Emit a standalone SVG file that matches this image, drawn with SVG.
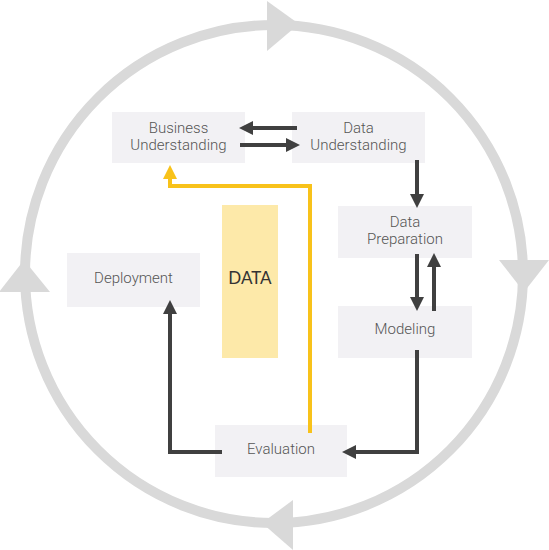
<svg xmlns="http://www.w3.org/2000/svg" width="549" height="550" viewBox="0 0 549 550">
<style>
.box{fill:#f2f1f4}
.lbl{font-family:Roboto,"Liberation Sans",sans-serif;font-size:15px;fill:#555;text-anchor:middle;font-weight:300}
.cyc{fill:#d9d9d9}
.ar{fill:none;stroke:#404040;stroke-width:4}
.ay{fill:none;stroke:#f8c21a;stroke-width:4}
</style>
<defs>
<marker id="hd" viewBox="0 0 14 14" refX="3" refY="7" markerWidth="14" markerHeight="14" markerUnits="userSpaceOnUse" orient="auto"><path d="M0,0 L14,7 L0,14 z" fill="#404040"/></marker>
<marker id="hy" viewBox="0 0 14 14" refX="3" refY="7" markerWidth="14" markerHeight="14" markerUnits="userSpaceOnUse" orient="auto"><path d="M0,0 L14,7 L0,14 z" fill="#f8c21a"/></marker>
</defs>
<g id="cycle">
<circle cx="274" cy="274" r="249" fill="none" stroke="#d9d9d9" stroke-width="10"/>
<polygon class="cyc" points="267,1 267,51 299,24"/>
<polygon class="cyc" points="499,260 549,260 524,292"/>
<polygon class="cyc" points="293,500 293,550 262,523"/>
<polygon class="cyc" points="-1,292 50,292 24,260"/>
</g>
<g id="data">
<rect x="222" y="205" width="56" height="153" fill="#fde9a9"/>
<text x="250" y="284" font-family="Lato,'Open Sans',sans-serif" font-size="17" fill="#333" text-anchor="middle">DATA</text>
</g>
<g id="business">
<rect class="box" x="112" y="112" width="133" height="51"/>
<text class="lbl" x="178.5" y="133">Business</text>
<text class="lbl" x="178.5" y="150">Understanding</text>
</g>
<g id="dataund">
<rect class="box" x="292" y="112" width="133" height="51"/>
<text class="lbl" x="358.5" y="133">Data</text>
<text class="lbl" x="358.5" y="150">Understanding</text>
</g>
<g id="dataprep">
<rect class="box" x="338" y="206" width="134" height="52"/>
<text class="lbl" x="405" y="227">Data</text>
<text class="lbl" x="405" y="244">Preparation</text>
</g>
<g id="modeling">
<rect class="box" x="338" y="306" width="134" height="52"/>
<text class="lbl" x="405" y="334">Modeling</text>
</g>
<g id="deployment">
<rect class="box" x="67" y="253" width="133" height="54"/>
<text class="lbl" x="133.5" y="283">Deployment</text>
</g>
<g id="evaluation">
<rect class="box" x="215" y="425" width="132" height="52"/>
<text class="lbl" x="281" y="454">Evaluation</text>
</g>
<g id="connectors">
<path class="ar" d="M297,128 L250,128" marker-end="url(#hd)"/>
<path class="ar" d="M240,145 L289,145" marker-end="url(#hd)"/>
<path class="ar" d="M417,160 L417,197" marker-end="url(#hd)"/>
<path class="ar" d="M417,254 L417,300" marker-end="url(#hd)"/>
<path class="ar" d="M434,311 L434,264" marker-end="url(#hd)"/>
<path class="ar" d="M417,350 L417,452 L353,452" marker-end="url(#hd)"/>
<path class="ar" d="M222,452 L170,452 L170,311" marker-end="url(#hd)"/>
<path class="ay" d="M310,433 L310,186 L170,186 L170,176" marker-end="url(#hy)"/>
</g>
</svg>
